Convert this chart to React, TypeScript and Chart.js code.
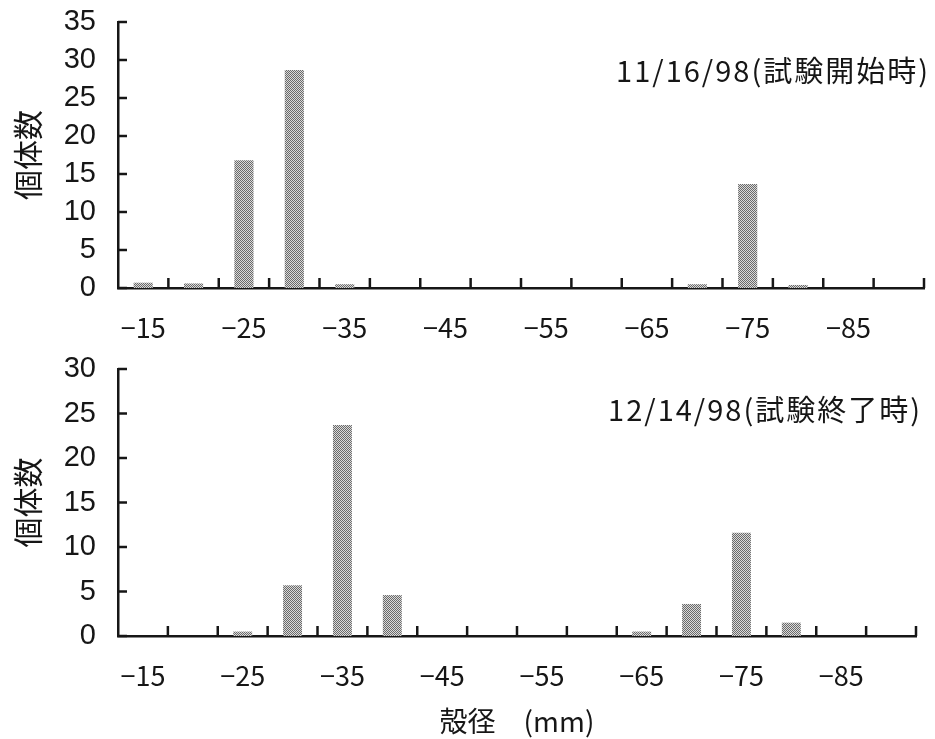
import React, { useEffect, useRef } from "react";
import { Chart, registerables } from "chart.js";

Chart.register(...registerables);

// shell diameter classes (mm)
const sizeClasses = ["-15", "-20", "-25", "-30", "-35", "-40", "-45", "-50", "-55", "-60", "-65", "-70", "-75", "-80", "-85", "-90"];
// x tick labels (every other class is labelled)
const xTickLabels = ["−15", "", "−25", "", "−35", "", "−45", "", "−55", "", "−65", "", "−75", "", "−85", ""];
// individuals at start of test (11/16/98)
const startCounts = [0.7, 0.6, 16.8, 28.7, 0.5, 0, 0, 0, 0, 0, 0, 0.5, 13.7, 0.4, 0, 0];
// individuals at end of test (12/14/98)
const endCounts = [0, 0, 0.5, 5.7, 23.7, 4.6, 0, 0, 0, 0, 0.5, 3.6, 11.6, 1.5, 0, 0];

const startTitle = "11/16/98(試験開始時)";
const endTitle = "12/14/98(試験終了時)";
const yTitle = "個体数";
const xTitle = "殻径　(mm)";

const CJK = '"Noto Sans CJK JP", "Noto Sans", sans-serif';
const SANS = '"Liberation Sans", Arial, sans-serif';
const INK = "#161616";

function makePattern(): CanvasPattern | string {
  const c = document.createElement("canvas");
  c.width = 2;
  c.height = 2;
  const g = c.getContext("2d");
  if (!g) return "#9a9a9a";
  g.fillStyle = "#dadada";
  g.fillRect(0, 0, 2, 2);
  g.fillStyle = "#6a6a6a";
  g.fillRect(0, 0, 1, 1);
  g.fillRect(1, 1, 1, 1);
  const p = g.createPattern(c, "repeat");
  return p || "#9a9a9a";
}

const innerTicks = {
  id: "innerTicks",
  afterDatasetsDraw(chart: any) {
    const { ctx, chartArea, scales } = chart;
    const x = scales.x;
    const y = scales.y;
    ctx.save();
    ctx.strokeStyle = INK;
    ctx.lineWidth = 2.5;
    y.ticks.forEach((_t: any, i: number) => {
      const py = y.getPixelForTick(i);
      ctx.beginPath();
      ctx.moveTo(chartArea.left, py);
      ctx.lineTo(chartArea.left + 9, py);
      ctx.stroke();
    });
    const n = x.ticks.length;
    for (let i = 1; i <= n; i++) {
      const px = x.getPixelForValue(i - 0.5);
      ctx.beginPath();
      ctx.moveTo(px, chartArea.bottom);
      ctx.lineTo(px, chartArea.bottom - 10);
      ctx.stroke();
    }
    ctx.restore();
  },
};

const cornerTitle = {
  id: "cornerTitle",
  afterDraw(chart: any, _args: any, opts: any) {
    const { ctx, chartArea } = chart;
    ctx.save();
    ctx.font = `29px ${CJK}`;
    (ctx as any).letterSpacing = "2px";
    ctx.fillStyle = INK;
    ctx.textAlign = "right";
    ctx.textBaseline = "middle";
    ctx.fillText(opts.text, chartArea.right + 6, chartArea.top + opts.dy);
    ctx.restore();
  },
};

type PanelProps = {
  values: number[];
  yMax: number;
  title: string;
  titleDy: number;
  height: number;
  padTop: number;
  padRight: number;
  xHeight: number;
  xPad: number;
  showXTitle: boolean;
};

function Panel(p: PanelProps) {
  const ref = useRef<HTMLCanvasElement | null>(null);
  useEffect(() => {
    const canvas = ref.current;
    if (!canvas) return;
    const fill = makePattern();
    const chart = new Chart(canvas, {
      type: "bar",
      data: {
        labels: sizeClasses,
        datasets: [
          {
            data: p.values,
            backgroundColor: fill as any,
            borderWidth: 0,
            barPercentage: 0.38,
            categoryPercentage: 1,
          },
        ],
      },
      options: {
        responsive: false,
        animation: false,
        devicePixelRatio: 1,
        layout: { padding: { top: p.padTop, right: p.padRight, left: 0, bottom: 0 } },
        plugins: {
          legend: { display: false },
          tooltip: { enabled: false },
          title: { display: false },
          cornerTitle: { text: p.title, dy: p.titleDy },
        } as any,
        scales: {
          x: {
            type: "category",
            offset: true,
            grid: { display: false, drawTicks: false },
            border: { display: true, color: INK, width: 2.5 },
            ticks: {
              autoSkip: false,
              maxRotation: 0,
              minRotation: 0,
              padding: p.xPad,
              color: INK,
              font: { family: CJK, size: 27 },
              callback: (_v: any, i: number) => xTickLabels[i],
            },
            title: {
              display: p.showXTitle,
              text: xTitle,
              color: INK,
              font: { family: CJK, size: 28 },
              padding: { top: 0, bottom: 1 },
            },
            afterFit: (s: any) => {
              s.height = p.xHeight;
              s.paddingLeft = 0;
              s.paddingRight = 0;
            },
          },
          y: {
            min: 0,
            max: p.yMax,
            grid: { display: false, drawTicks: false },
            border: { display: true, color: INK, width: 2.5 },
            ticks: {
              stepSize: 5,
              autoSkip: false,
              padding: 22,
              color: INK,
              font: { family: SANS, size: 29 },
            },
            title: {
              display: true,
              text: yTitle,
              color: INK,
              font: { family: CJK, size: 30 },
              padding: { top: 10, bottom: 0 },
            },
            afterFit: (s: any) => {
              s.width = 118;
              s.paddingTop = 0;
              s.paddingBottom = 0;
            },
          },
        },
      },
      plugins: [innerTicks, cornerTitle],
    });
    return () => chart.destroy();
  }, []);
  return <canvas ref={ref} width={935} height={p.height} style={{ display: "block" }} />;
}

export default function App() {
  useEffect(() => {
    document.body.style.margin = "0";
    document.body.style.background = "#ffffff";
  }, []);
  return (
    <div style={{ width: 935, height: 739, background: "#fff", overflow: "hidden" }}>
      <Panel
        values={startCounts}
        yMax={35}
        title={startTitle}
        titleDy={49}
        height={350}
        padTop={22}
        padRight={11}
        xHeight={62}
        xPad={24}
        showXTitle={false}
      />
      <Panel
        values={endCounts}
        yMax={30}
        title={endTitle}
        titleDy={41}
        height={389}
        padTop={19}
        padRight={19}
        xHeight={103}
        xPad={24}
        showXTitle={true}
      />
    </div>
  );
}
